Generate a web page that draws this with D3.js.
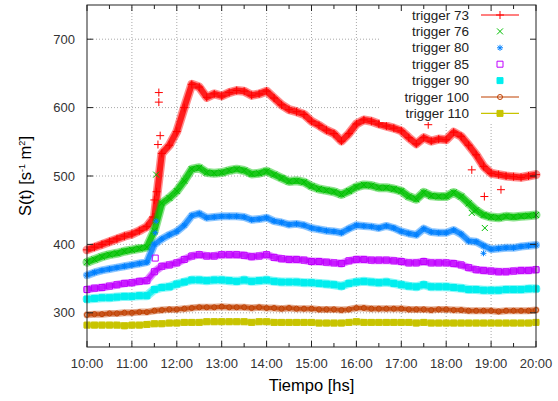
<!DOCTYPE html>
<html><head><meta charset="utf-8">
<script src="https://cdnjs.cloudflare.com/ajax/libs/d3/7.8.5/d3.min.js"></script>
<style>body{margin:0;background:#fff}svg{display:block;font-family:"Liberation Sans",Arial,sans-serif}</style>
</head><body>
<script>
// ---- data (hours, 10-minute steps) ----
const times = d3.range(61).map(i => 10 + i / 6);
const xTickLabels = ["10:00","11:00","12:00","13:00","14:00","15:00","16:00","17:00","18:00","19:00","20:00"];
const yTicks = [300, 400, 500, 600, 700];
const seriesNames = ["trigger 73","trigger 76","trigger 80","trigger 85","trigger 90","trigger 100","trigger 110"];

const trig73 = [392,396,400,404,408,412,415,420,426,440,533,545,565,600,634,630,615,620,617,622,625,624,618,620,624,614,604,597,594,590,580,574,567,562,551,562,576,582,580,576,573,570,566,556,547,556,551,554,553,564,558,545,531,514,504,502,500,499,498,500,502];
const trig76 = [374,378,382,385,387,390,392,394,396,420,460,468,478,493,510,512,505,504,505,508,510,508,503,504,507,502,497,492,493,491,485,481,479,477,473,478,484,487,486,483,483,481,478,470,466,476,471,470,470,476,470,460,450,443,440,439,441,440,441,442,443];
const trig80 = [355,359,362,364,366,368,370,372,374,400,408,414,419,428,442,445,439,440,441,441,441,440,436,437,439,434,432,429,430,428,424,422,420,419,417,423,428,427,426,424,427,424,419,416,414,423,418,417,417,421,415,405,404,398,393,394,395,395,397,398,399];
const trig85 = [334,336,337,339,341,343,344,346,347,360,368,370,373,378,383,385,383,383,385,385,385,384,382,383,385,381,379,378,378,377,375,375,374,373,372,376,378,378,377,377,377,376,375,373,373,375,373,373,373,372,370,366,363,362,361,360,360,361,362,362,363];
const trig90 = [320,321,322,322,323,324,324,325,325,334,337,338,342,345,348,348,347,348,348,347,346,348,346,347,348,346,345,345,345,344,344,343,342,341,339,343,345,346,345,344,345,343,341,339,338,341,338,338,338,337,336,334,334,333,333,333,334,334,334,335,335];
const trig100 = [297,298,298,299,299,300,300,301,301,303,304,305,305,306,307,308,308,308,309,308,308,308,307,308,307,307,306,307,306,306,306,305,305,305,304,305,307,307,306,306,306,306,306,305,305,305,304,305,305,304,304,303,303,303,303,302,303,303,303,303,304];
const trig110 = [282,282,282,282,282,281,282,282,283,284,284,285,285,286,286,286,287,287,287,287,287,287,286,287,287,286,286,286,286,286,286,285,285,285,285,286,287,286,286,286,286,286,286,286,285,286,285,285,285,285,285,285,285,285,285,285,285,285,285,285,286];

// scattered isolated points [hour, value]
const extra73 = [[11.60,622],[11.60,608],[11.63,559],[11.58,546],[11.55,477],[11.50,465],[11.47,440],[17.60,575],[18.57,509],[18.85,470],[19.22,480]];
const extra76 = [[11.54,502],[18.57,446],[18.86,424]];
const extra80 = [[11.54,434],[11.52,417],[18.83,387]];
const extra85 = [[11.52,380]];

const allSeries = [trig73, trig76, trig80, trig85, trig90, trig100, trig110];
const allExtra = [extra73, extra76, extra80, extra85, [], [], []];
const colors = ["#ff0000","#00c000","#0080ff","#c000ff","#00eeee","#c04000","#c8c400"];
const markers = ["plus","cross","star","sq","fsq","circ","fsq"];
const bandW = [9, 9, 8, 8, 9, 7, 7];
const legendLine = [true,false,false,false,false,true,true];

// ---- layout ----
const W = 558, H = 401;
const m = {l: 87, r: 22, t: 5, b: 54};
const svg = d3.select("body").append("svg").attr("width", W).attr("height", H);
const x = d3.scaleLinear().domain([10, 20]).range([m.l, W - m.r]);
const y = d3.scaleLinear().domain([250, 750]).range([H - m.b, m.t]);
const x0 = x.range()[0], x1 = x.range()[1], y0 = y.range()[0], y1 = y.range()[1];

// grid
const g = svg.append("g");
g.selectAll(".vg").data(d3.range(11, 20)).enter().append("line")
  .attr("x1", d => x(d)).attr("x2", d => x(d)).attr("y1", y0).attr("y2", y1)
  .attr("stroke", "#a8a8a8").attr("stroke-dasharray", "1,2");
g.selectAll(".hg").data(yTicks).enter().append("line")
  .attr("x1", x0).attr("x2", x1).attr("y1", d => y(d)).attr("y2", d => y(d))
  .attr("stroke", "#a8a8a8").attr("stroke-dasharray", "1,2");

function markerPath(type) {
  switch (type) {
    case "plus": return "M-4,0H4M0,-4V4";
    case "cross": return "M-3,-3L3,3M-3,3L3,-3";
    case "star": return "M-3,0H3M0,-3V3M-2.2,-2.2L2.2,2.2M-2.2,2.2L2.2,-2.2";
    case "sq": return "M-3,-3H3V3H-3Z";
    case "fsq": return "M-3,-3H3V3H-3Z";
    case "circ": return "M-2.5,0A2.5,2.5 0 1,0 2.5,0A2.5,2.5 0 1,0 -2.5,0";
  }
}
function drawMarker(sel, type, color) {
  const filled = type === "fsq";
  sel.append("path").attr("d", markerPath(type))
    .attr("fill", filled ? color : "none")
    .attr("stroke", color).attr("stroke-width", 1);
}

const line = d3.line().x((d, i) => x(times[i])).y(d => y(d));
const plot = svg.append("g");
allSeries.forEach((s, k) => {
  const c = colors[k];
  plot.append("path").datum(s).attr("d", line).attr("fill", "none")
    .attr("stroke", c).attr("stroke-width", bandW[k]).attr("stroke-opacity", 0.45)
    .attr("stroke-linejoin", "round").attr("stroke-linecap", "round");
  plot.append("path").datum(s).attr("d", line).attr("fill", "none")
    .attr("stroke", c).attr("stroke-width", bandW[k] - 3).attr("stroke-opacity", 0.8)
    .attr("stroke-linejoin", "round");
  const pts = s.map((v, i) => [times[i], v]).concat(allExtra[k]);
  pts.forEach(p => {
    const mg = plot.append("g").attr("transform", `translate(${x(p[0])},${y(p[1])})`);
    drawMarker(mg, markers[k], c);
  });
});

// legend (opaque)
const lg = svg.append("g");
lg.append("rect").attr("x", 380).attr("y", y1 + 1).attr("width", x1 - 381).attr("height", 116).attr("fill", "#fff");
seriesNames.forEach((n, k) => {
  const cy = 15 + k * 16.4;
  lg.append("text").attr("x", 469).attr("y", cy + 4.5).attr("text-anchor", "end")
    .attr("font-size", 13.5).attr("fill", "#222").text(n);
  if (legendLine[k]) {
    lg.append("line").attr("x1", 481).attr("x2", 519).attr("y1", cy).attr("y2", cy)
      .attr("stroke", colors[k]).attr("stroke-width", k === 5 ? 2 : 1.2)
      .attr("stroke-opacity", k === 5 ? 0.5 : 1);
  }
  const mg = lg.append("g").attr("transform", `translate(500,${cy})`);
  drawMarker(mg, markers[k], colors[k]);
});

// frame and ticks
const fr = svg.append("g");
fr.append("rect").attr("x", x0).attr("y", y1).attr("width", x1 - x0).attr("height", y0 - y1)
  .attr("fill", "none").attr("stroke", "#222").attr("stroke-width", 1);
const halfHours = d3.range(10, 20.01, 0.5);
halfHours.forEach(h => {
  const len = Number.isInteger(h) ? 6 : 4;
  fr.append("line").attr("x1", x(h)).attr("x2", x(h)).attr("y1", y0).attr("y2", y0 - len).attr("stroke", "#222");
  fr.append("line").attr("x1", x(h)).attr("x2", x(h)).attr("y1", y1).attr("y2", y1 + len).attr("stroke", "#222");
});
yTicks.forEach(v => {
  fr.append("line").attr("x1", x0).attr("x2", x0 + 6).attr("y1", y(v)).attr("y2", y(v)).attr("stroke", "#222");
  fr.append("line").attr("x1", x1).attr("x2", x1 - 6).attr("y1", y(v)).attr("y2", y(v)).attr("stroke", "#222");
});

// tick labels
svg.append("g").selectAll("text").data(xTickLabels).enter().append("text")
  .attr("x", (d, i) => x(10 + i)).attr("y", 367.5).attr("text-anchor", "middle")
  .attr("font-size", 13).attr("fill", "#333").text(d => d);
svg.append("g").selectAll("text").data(yTicks).enter().append("text")
  .attr("x", 75).attr("y", d => y(d) + 4.5).attr("text-anchor", "end")
  .attr("font-size", 13).attr("fill", "#333").text(d => d);

// axis titles
svg.append("text").attr("x", (x0 + x1) / 2).attr("y", 391).attr("text-anchor", "middle")
  .attr("font-size", 16.5).attr("fill", "#000").text("Tiempo [hs]");
const yt = svg.append("text").attr("transform", `translate(31,${(y0 + y1) / 2}) rotate(-90)`)
  .attr("text-anchor", "middle").attr("font-size", 16.5).attr("fill", "#000");
yt.append("tspan").text("S(t) [s");
yt.append("tspan").attr("dy", -6).attr("font-size", 9).text("-1");
yt.append("tspan").attr("dy", 6).text(" m");
yt.append("tspan").attr("dy", -6).attr("font-size", 9).text("2");
yt.append("tspan").attr("dy", 6).text("]");
</script>
</body></html>
